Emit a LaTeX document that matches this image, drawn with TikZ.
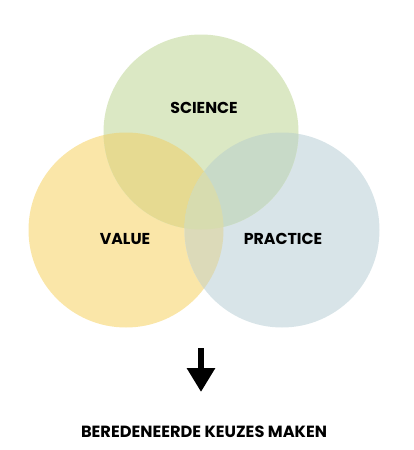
\documentclass[tikz,border=0pt]{standalone}
\usepackage{fontspec}
\setmainfont{Poppins}
\usepackage{xcolor}
\usetikzlibrary{arrows.meta, positioning}

\definecolor{scienceFill}{HTML}{DBE8C4}
\definecolor{valueFill}{HTML}{FAE6A8}
\definecolor{practiceFill}{HTML}{D8E4E8}
\definecolor{svFill}{HTML}{E6DA91}
\definecolor{spFill}{HTML}{C8DAC8}
\definecolor{vpFill}{HTML}{DCDAB9}
\definecolor{allFill}{HTML}{D7DCAF}

\begin{document}
\begin{tikzpicture}[
    x=1pt, y=-1pt,
    venn/.style={circle, minimum size=195pt, inner sep=0pt},
    venn_label/.style={font=\bfseries\fontsize{15.8}{15.8}\selectfont, text=black},
    result_label/.style={font=\bfseries\fontsize{16.2}{16.2}\selectfont, text=black},
    result_arrow/.style={-{Triangle[width=27pt, length=24pt]}, line width=6.5pt, color=black}
]
\useasboundingbox (0,0) rectangle (413,450);

% CIRCLES
\node[venn, fill=valueFill] (value) at (126,230) {};
\node[venn, fill=practiceFill] (practice) at (282,230) {};
\node[venn, fill=scienceFill] (science) at (201,132) {};

% OVERLAPS
\begin{scope}
    \clip (value.center) circle (97.5);
    \fill[svFill] (science.center) circle (97.5);
\end{scope}
\begin{scope}
    \clip (practice.center) circle (97.5);
    \fill[spFill] (science.center) circle (97.5);
\end{scope}
\begin{scope}
    \clip (value.center) circle (97.5);
    \fill[vpFill] (practice.center) circle (97.5);
\end{scope}
\begin{scope}
    \clip (value.center) circle (97.5);
    \clip (practice.center) circle (97.5);
    \fill[allFill] (science.center) circle (97.5);
\end{scope}

% LABELS
\node[venn_label] (science_txt) at (204,108) {SCIENCE};
\node[venn_label] (value_txt) at (125,239) {VALUE};
\node[venn_label] (practice_txt) at (283,239) {PRACTICE};

% RESULT
\coordinate (arrow_top) at (201,348);
\coordinate (arrow_tip) at (201,392);
\draw[result_arrow] (arrow_top) -- (arrow_tip);
\node[result_label] (result) at (204,432) {BEREDENEERDE KEUZES MAKEN};

\end{tikzpicture}
\end{document}
